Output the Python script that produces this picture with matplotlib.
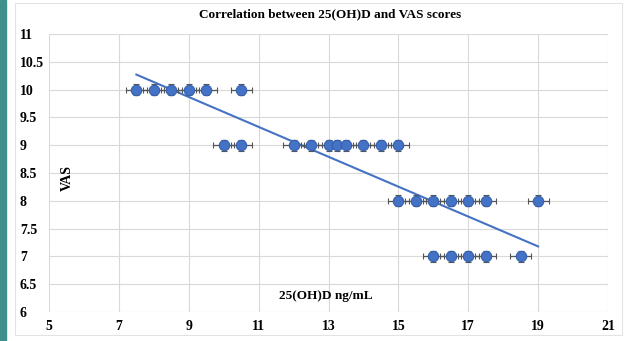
import numpy as np
import matplotlib
matplotlib.use("Agg")
import matplotlib.pyplot as plt
from matplotlib.patches import Rectangle

# 25(OH)D values (ng/mL) grouped by VAS score
x_vas10 = [7.5, 8.0, 8.5, 9.0, 9.5, 10.5]
x_vas9 = [10.0, 10.5, 12.0, 12.5, 13.0, 13.25, 13.5, 14.0, 14.5, 15.0]
x_vas8 = [15.0, 15.5, 16.0, 16.5, 17.0, 17.5, 19.0]
x_vas7 = [16.0, 16.5, 17.0, 17.5, 18.5]

vitd = np.array(x_vas10 + x_vas9 + x_vas8 + x_vas7)
vas = np.array([10] * len(x_vas10) + [9] * len(x_vas9)
               + [8] * len(x_vas8) + [7] * len(x_vas7), dtype=float)

x_err = 0.3
y_err = 0.1

x_ticks = [5, 7, 9, 11, 13, 15, 17, 19, 21]
y_ticks = [6, 6.5, 7, 7.5, 8, 8.5, 9, 9.5, 10, 10.5, 11]

plt.rcParams["font.family"] = ["Liberation Serif", "DejaVu Serif"]
plt.rcParams["font.weight"] = "bold"

fig = plt.figure(figsize=(6.28, 3.41), dpi=100)
ax = fig.add_axes([49 / 628, 1 - 312 / 341, 559 / 628, 278 / 341])

# outer decoration: teal side bar + light chart border
fig.patches.append(Rectangle((0, 0), 6 / 628, 1, transform=fig.transFigure,
                             color="#3f8f8c", zorder=0))
fig.patches.append(Rectangle((15 / 628, 6 / 341), 607 / 628, 332 / 341,
                             transform=fig.transFigure, fill=False,
                             edgecolor="#e3e3e3", linewidth=0.8, zorder=0))

ax.errorbar(vitd, vas, xerr=x_err, yerr=y_err, fmt="o", color="#4472c4",
            markersize=7.5, markeredgecolor="#3560b0", markeredgewidth=0.8,
            ecolor="#555555", elinewidth=0.9, capsize=2.5, capthick=0.9,
            zorder=3)

# linear trendline over the data range
slope, intercept = np.polyfit(vitd, vas, 1)
xs = np.array([vitd.min(), vitd.max()])
ax.plot(xs, slope * xs + intercept, color="#4472c4", linewidth=1.5, zorder=2)

ax.set_xlim(5, 21)
ax.set_ylim(6, 11)
ax.set_xticks(x_ticks)
ax.set_yticks(y_ticks)
ax.set_yticklabels([f"{v:g}" for v in y_ticks], ha="left")
ax.tick_params(axis="y", length=0, pad=21, labelsize=10)
ax.tick_params(axis="x", length=0, pad=6, labelsize=10)
ax.grid(True, color="#d9d9d9", linewidth=0.8)
ax.set_axisbelow(True)
for s in ax.spines.values():
    s.set_visible(False)

fig.text(67 / 628, 1 - 178 / 341, "VAS", rotation=90, ha="center",
         va="center", fontsize=10, fontweight="bold")
fig.text(326 / 628, 1 - 296 / 341, "25(OH)D ng/mL", ha="center", va="center",
         fontsize=9.5, fontweight="bold")
fig.text(330 / 628, 1 - 14 / 341, "Correlation between 25(OH)D and VAS scores",
         ha="center", va="center", fontsize=9.5, fontweight="bold")

fig.savefig("out.png", dpi=100)
